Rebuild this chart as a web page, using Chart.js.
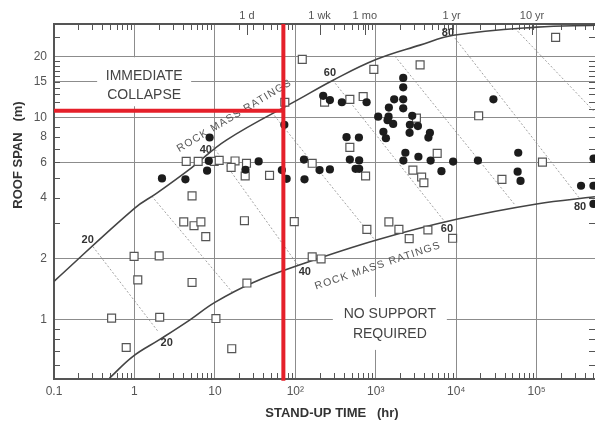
<!DOCTYPE html>
<html>
<head>
<meta charset="utf-8">
<script src="https://cdn.jsdelivr.net/npm/chart.js@4.4.0/dist/chart.umd.min.js"></script>
<style>
    html, body { margin: 0; padding: 0; background: #fff; overflow: hidden; }
    #wrap { width: 595px; height: 421px; }
</style>
</head>
<body>
<div id="wrap"><canvas id="chart"></canvas></div>
<script>
// axis ticks
var xTickValues = [0.1, 1, 10, 100, 1000, 10000, 100000];
var xTickLabels = ['0.1', '1', '10', '10²', '10³', '10⁴', '10⁵'];
var yTickValues = [1, 2, 4, 6, 8, 10, 15, 20];
var yGridValues = [1, 2, 6, 10, 15, 20];
var topTickHours = [25, 200, 730, 8760, 87600];
var topTickLabels = ['1 d', '1 wk', '1 mo', '1 yr', '10 yr'];

// case histories : filled circles
var failTime = [2.2, 4.3, 8.6, 8.4, 8.0, 24, 35, 68, 78, 73, 128, 130, 200, 269, 222, 269, 379, 769, 433, 617, 476, 621, 561, 621, 1071, 1443, 1402, 1645, 1455, 1694, 2193, 2193, 2193, 2193, 2838, 2655, 3340, 1244, 1336, 2632, 4710, 4510, 2333, 3388, 2203, 4806, 9150, 18600, 6550, 29000, 59000, 58000, 63000, 356000, 508000, 508000, 510000];
var failSpan = [5.0, 4.95, 7.97, 6.1, 5.46, 5.52, 6.07, 5.5, 4.98, 9.2, 6.2, 4.95, 5.5, 5.54, 12.8, 12.2, 11.9, 11.9, 8.0, 7.97, 6.2, 6.14, 5.58, 5.58, 10.1, 10.1, 9.7, 9.3, 11.2, 12.3, 15.7, 14.1, 12.3, 11.1, 10.2, 9.2, 9.07, 8.5, 7.9, 8.4, 8.4, 7.96, 6.7, 6.4, 6.13, 6.13, 6.06, 6.13, 5.43, 12.3, 6.7, 5.4, 4.86, 4.6, 4.6, 3.74, 6.27];

// case histories : open squares
var stableTime = [0.99, 2.03, 1.1, 0.52, 2.06, 10.3, 0.79, 16.2, 5.2, 25, 4.1, 5.5, 6.7, 7.7, 23.3, 97, 5.2, 4.4, 6.2, 9.8, 11.3, 17.8, 24.7, 15.9, 23.8, 47.8, 74, 122, 231, 476, 697, 946, 3556, 3200, 19000, 172000, 162, 476, 747, 5800, 2893, 3715, 3963, 37000, 118000, 775, 1455, 1938, 4446, 2602, 9020, 162, 209];
var stableSpan = [2.06, 2.07, 1.575, 1.02, 1.03, 1.015, 0.73, 0.72, 1.53, 1.52, 3.05, 2.92, 3.05, 2.58, 3.09, 3.06, 4.1, 6.07, 6.07, 6.07, 6.14, 6.1, 5.94, 5.67, 5.14, 5.18, 11.9, 19.4, 11.9, 12.3, 12.7, 17.3, 18.2, 9.93, 10.2, 24.9, 5.94, 7.12, 5.14, 6.65, 5.5, 5.08, 4.76, 4.95, 6.02, 2.8, 3.05, 2.8, 2.78, 2.52, 2.53, 2.05, 2.0];

// boundary curves
var upperTime = [0.1, 1.0, 1.88, 5.16, 13.9, 114, 295, 1023, 3540, 9190, 100000, 530000];
var upperSpan = [1.55, 3.56, 4.22, 5.66, 7.74, 12.4, 15.3, 19.4, 22.8, 25.5, 28, 28.6];
var lowerTime = [0.49, 0.96, 2.07, 4.9, 10, 30, 114, 1023, 10100, 100000, 530000];
var lowerSpan = [0.515, 0.66, 0.80, 1.0, 1.22, 1.53, 1.87, 2.48, 3.14, 3.74, 4.06];

// rock mass rating lines (dotted)
var rmrUpperTime = [0.305, 1.64, 9.4, 51, 292, 1730, 9640, 53700];
var rmrUpperSpan = [2.30, 4.09, 7.22, 10.6, 15.3, 20.1, 24.7, 27.6];
var rmrLowerTime = [1.97, 16.7, 107, 975, 7230, 53700, 346000, 531000];
var rmrLowerSpan = [0.875, 1.36, 1.87, 2.48, 3.05, 3.70, 3.96, 10.6];

// red guide lines
var guideTime = 71;
var guideSpan = 10.8;

var X_MIN = 0.1, X_MAX = 531000, Y_MIN = 0.51, Y_MAX = 29;
var FONT = "'Liberation Sans', Arial, sans-serif";

function pairs(xs, ys) {
    return xs.map(function (v, i) { return { x: v, y: ys[i] }; });
}

// annotations placed in data units
var curveLabels = [
    { t: '20', x: 0.262, y: 2.48 }, { t: '40', x: 7.7, y: 6.9 },
    { t: '60', x: 269, y: 16.6 }, { t: '80', x: 7890, y: 26.1 },
    { t: '20', x: 2.52, y: 0.77 }, { t: '40', x: 131, y: 1.73 },
    { t: '60', x: 7660, y: 2.81 }, { t: '80', x: 346000, y: 3.61 }
];

var datasets = [];
datasets.push({
    label: 'guide h', data: [{ x: X_MIN, y: guideSpan }, { x: guideTime, y: guideSpan }],
    showLine: true, borderColor: '#e5202a', borderWidth: 4, pointRadius: 0, order: 0
});
datasets.push({
    label: 'guide v', data: [{ x: guideTime, y: 0.5 }, { x: guideTime, y: Y_MAX }],
    showLine: true, borderColor: '#e5202a', borderWidth: 4, pointRadius: 0, order: 0, clip: 4
});
datasets.push({
    label: 'failures', data: pairs(failTime, failSpan),
    pointStyle: 'circle', pointRadius: 4.1, backgroundColor: '#1c1c1c', borderColor: '#1c1c1c', borderWidth: 0, order: 1
});
datasets.push({
    label: 'stable', data: pairs(stableTime, stableSpan),
    pointStyle: 'rect', pointRadius: 5.6, backgroundColor: '#fff', borderColor: '#555', borderWidth: 1.2, order: 2
});
datasets.push({
    label: 'upper', data: pairs(upperTime, upperSpan), showLine: true, tension: 0.4,
    borderColor: '#444', borderWidth: 1.6, pointRadius: 0, order: 3
});
datasets.push({
    label: 'lower', data: pairs(lowerTime, lowerSpan), showLine: true, tension: 0.4,
    borderColor: '#444', borderWidth: 1.6, pointRadius: 0, order: 3
});
for (var i = 0; i < rmrUpperTime.length; i++) {
    datasets.push({
        label: 'rmr', data: [{ x: rmrUpperTime[i], y: rmrUpperSpan[i] }, { x: rmrLowerTime[i], y: rmrLowerSpan[i] }],
        showLine: true, borderColor: '#8a8a8a', borderWidth: 0.8, borderDash: [2, 2], pointRadius: 0, order: 4
    });
}

var decorPlugin = {
    id: 'decor',
    beforeDatasetsDraw: function (chart) {
        var ctx = chart.ctx, a = chart.chartArea, sx = chart.scales.x, sy = chart.scales.y;
        ctx.save();
        // inside minor ticks
        ctx.strokeStyle = '#555';
        ctx.lineWidth = 1;
        ctx.beginPath();
        for (var d = -1; d <= 5; d++) {
            for (var m = 2; m < 10; m++) {
                var v = m * Math.pow(10, d);
                if (v > X_MAX) continue;
                var px = Math.round(sx.getPixelForValue(v)) + 0.5;
                ctx.moveTo(px, a.bottom); ctx.lineTo(px, a.bottom - 6);
                ctx.moveTo(px, a.top); ctx.lineTo(px, a.top + 6);
            }
        }
        topTickHours.forEach(function (h) {
            var px = Math.round(sx.getPixelForValue(h)) + 0.5;
            ctx.moveTo(px, a.top); ctx.lineTo(px, a.top + 11);
        });
        var yMinor = [0.6, 0.7, 0.8, 0.9, 3, 4, 5, 6, 7, 8, 9, 11, 12, 13, 14, 15, 16, 17, 18, 19, 25];
        yMinor.forEach(function (v) {
            var py = Math.round(sy.getPixelForValue(v)) + 0.5;
            ctx.moveTo(a.left, py); ctx.lineTo(a.left + 6, py);
            ctx.moveTo(a.right, py); ctx.lineTo(a.right - 6, py);
        });
        ctx.stroke();

        // region captions with white boxes
        ctx.fillStyle = '#fff';
        var c1x = sx.getPixelForValue(1.32), c1y = sy.getPixelForValue(16.0);
        ctx.fillRect(c1x - 47, c1y - 19, 94, 49);
        var c2x = sx.getPixelForValue(1496), c2y = sy.getPixelForValue(1.07);
        ctx.fillRect(c2x - 57, c2y - 17, 114, 53);
        ctx.fillStyle = '#444';
        ctx.font = '14px ' + FONT;
        ctx.textAlign = 'center';
        ctx.textBaseline = 'middle';
        ctx.fillText('IMMEDIATE', c1x, c1y);
        ctx.fillText('COLLAPSE', c1x, sy.getPixelForValue(12.9));
        ctx.fillText('NO SUPPORT', c2x, c2y);
        ctx.fillText('REQUIRED', c2x, sy.getPixelForValue(0.853));

        // rating labels
        ctx.fillStyle = '#333';
        ctx.font = 'bold 11px ' + FONT;
        curveLabels.forEach(function (l) {
            ctx.fillText(l.t, sx.getPixelForValue(l.x), sy.getPixelForValue(l.y));
        });

        // along-curve text
        ctx.fillStyle = '#555';
        ctx.font = '10.5px ' + FONT;
        ctx.letterSpacing = '1.2px';
        ctx.save();
        ctx.translate(sx.getPixelForValue(17.5), sy.getPixelForValue(10.2));
        ctx.rotate(-31 * Math.PI / 180);
        ctx.fillText('ROCK MASS RATINGS', 0, 0);
        ctx.restore();
        ctx.save();
        ctx.translate(sx.getPixelForValue(1062), sy.getPixelForValue(1.85));
        ctx.rotate(-18.5 * Math.PI / 180);
        ctx.fillText('ROCK MASS RATINGS', 0, 0);
        ctx.restore();
        ctx.letterSpacing = '0px';

        // axis titles
        ctx.fillStyle = '#333';
        ctx.font = 'bold 13px ' + FONT;
        ctx.fillText('STAND-UP TIME   (hr)', 332, 413);
        ctx.save();
        ctx.translate(18, 155);
        ctx.rotate(-Math.PI / 2);
        ctx.fillText('ROOF SPAN   (m)', 0, 0);
        ctx.restore();
        ctx.restore();
    }
};

function noSidePadding(s, h) {
    s.height = h;
    s.paddingLeft = 0;
    s.paddingRight = 0;
}

Chart.defaults.font.family = FONT;
Chart.defaults.color = '#555';

new Chart(document.getElementById('chart').getContext('2d'), {
    type: 'scatter',
    data: { datasets: datasets },
    options: {
        responsive: true,
        maintainAspectRatio: false,
        animation: false,
        layout: { padding: 0, autoPadding: false },
        plugins: { legend: { display: false }, tooltip: { enabled: false } },
        scales: {
            x: {
                type: 'logarithmic', position: 'bottom', min: X_MIN, max: X_MAX,
                afterFit: function (s) { noSidePadding(s, 42); },
                afterBuildTicks: function (s) { s.ticks = xTickValues.map(function (v) { return { value: v }; }); },
                ticks: {
                    autoSkip: false, maxRotation: 0, padding: 5, font: { size: 12 }, color: '#555',
                    callback: function (v, i) { return xTickLabels[i]; }
                },
                grid: {
                    drawTicks: false, lineWidth: 1,
                    color: function (c) { return c.tick && c.tick.value > X_MIN ? '#8c8c8c' : 'rgba(0,0,0,0)'; }
                },
                border: { color: '#555', width: 2 }
            },
            xTop: {
                type: 'logarithmic', position: 'top', min: X_MIN, max: X_MAX,
                afterFit: function (s) { noSidePadding(s, 24); },
                afterBuildTicks: function (s) { s.ticks = topTickHours.map(function (v) { return { value: v }; }); },
                ticks: {
                    autoSkip: false, maxRotation: 0, padding: 1, font: { size: 11 }, color: '#555',
                    callback: function (v, i) { return topTickLabels[i]; }
                },
                grid: { drawTicks: false, drawOnChartArea: false },
                border: { color: '#555', width: 2 }
            },
            y: {
                type: 'logarithmic', position: 'left', min: Y_MIN, max: Y_MAX,
                afterFit: function (s) { s.width = 54; },
                afterBuildTicks: function (s) { s.ticks = yTickValues.map(function (v) { return { value: v }; }); },
                ticks: {
                    autoSkip: false, padding: 7, font: { size: 12 }, color: '#555',
                    callback: function (v) { return String(v); }
                },
                grid: {
                    drawTicks: false, lineWidth: 1,
                    color: function (c) { return c.tick && yGridValues.indexOf(c.tick.value) >= 0 ? '#8c8c8c' : 'rgba(0,0,0,0)'; }
                },
                border: { color: '#555', width: 2 }
            }
        }
    },
    plugins: [decorPlugin]
});
</script>
</body>
</html>
